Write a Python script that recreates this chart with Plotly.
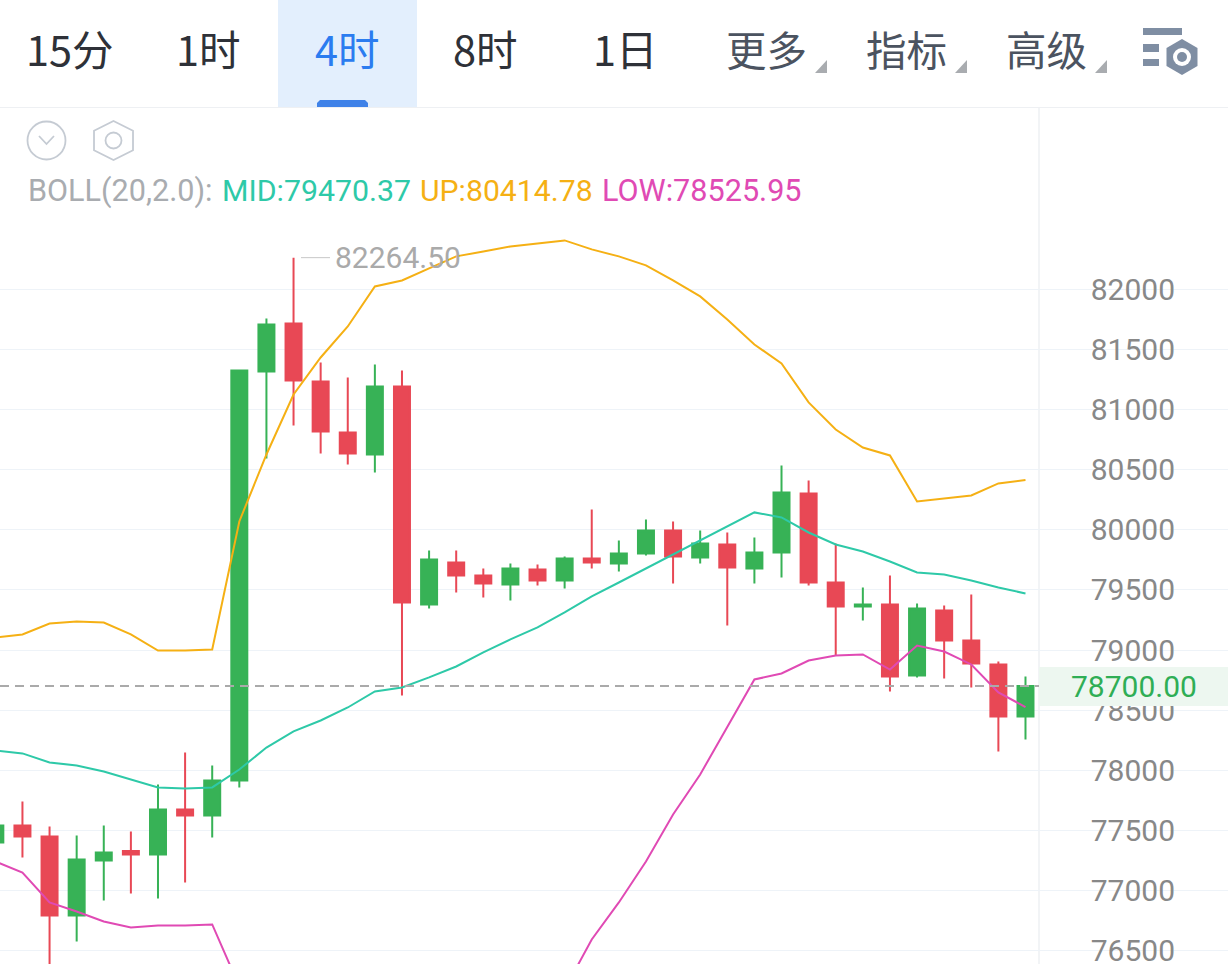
import math
import plotly.graph_objects as go

W, H = 1228, 964

candle_index = list(range(39))
open_ = [77399,77540,77449,76792,77249,77328,77299,77674,77624,77915,81318,81717,81235,80810,80627,81193,79379,79729,79620,79546,79670,79579,79762,79720,79804,79995,79770,79878,79679,79812,80303,79562,79363,79379,78788,79329,79080,78880,78447]
high = [77600,77740,77532,77457,77540,77491,77882,78148,78040,81334,81759,82264.5,81393,81268,81376,81326,79828,79828,79679,79720,79712,79779,80170,79912,80086,80070,79995,79978,79937,80536,80411,79887,79521,79620,79388,79371,79462,78905,78780]
low = [77340,77274,76301,76575,76916,76975,76933,77066,77441,77857,80594,80868,80636,80544,80477,78622,79346,79479,79437,79412,79537,79512,79679,79654,79787,79554,79720,79204,79554,79604,79537,78955,79246,78655,78772,78764,78689,78156,78256]
close = [77540,77449,76792,77258,77316,77299,77674,77624,77915,81326,81709,81243,80819,80636,81193,79396,79754,79620,79554,79679,79579,79762,79729,79804,79995,79779,79887,79687,79812,80311,79562,79363,79379,78780,79346,79080,78888,78447,78700]

boll_mid = [78164,78140,78065,78040,77990,77923,77857,77848,77857,78006,78189,78323,78414,78522,78655,78689,78772,78863,78980,79088,79188,79313,79446,79562,79679,79795,79912,80028,80145,80103,79978,79878,79820,79737,79645,79629,79579,79521,79470.37]
boll_up = [79105,79130,79221,79238,79229,79130,78996,78996,79005,80070,80627,81126,81434,81692,82025,82075,82175,82275,82316,82358,82383,82408,82333,82275,82200,82075,81942,81750,81542,81384,81060,80835,80685,80619,80236,80261,80286,80386,80414.78]
boll_low = [77241,77149,76900,76825,76742,76692,76708,76708,76717,76201,75800,75500,75350,75400,75150,75050,75150,75300,75450,75600,75900,76176,76592,76900,77241,77632,77965,78364,78755,78805,78913,78955,78963,78838,79038,78988,78880,78647,78525.95]

y_ticks = [76500,77000,77500,78000,78500,79000,79500,80000,80500,81000,81500,82000]
last_price = 78700.00
peak_price = 82264.50
peak_index = 11

tabs = ["15分","1时","4时","8时","1日"]
tab_centers = [70,208,347,485,625]
menus = ["更多","指标","高级"]
menu_centers = [766,906,1046]

GREEN, RED = "#37B256", "#E84855"
TEAL, ORANGE, MAGENTA = "#2EC9A8", "#F5B014", "#E04AB4"
GRID, EDGE = "#EEF3F8", "#EEF0F3"
ICON = "#C5CBD3"
SLATE = "#7F8EA3"
SANS = "Roboto"
CJK = "Noto Sans CJK SC"

def px(x): return x / W
def py(y): return 1 - y / H

def rect(x0, y0, x1, y1, color, layer="above"):
    return dict(type="rect", xref="paper", yref="paper", x0=px(x0), x1=px(x1), y0=py(y1), y1=py(y0),
                fillcolor=color, line_width=0, layer=layer)

def circle(cx, cy, r, fill=None, line=None, lw=1.8):
    return dict(type="circle", xref="paper", yref="paper", x0=px(cx-r), x1=px(cx+r), y0=py(cy+r), y1=py(cy-r),
                fillcolor=fill or "rgba(0,0,0,0)", line=dict(color=line or "rgba(0,0,0,0)", width=lw if line else 0), layer="above")

def poly(points, fill=None, line=None, lw=1.8, closed=True):
    d = "M" + " L".join(f"{px(a):.5f},{py(b):.5f}" for a, b in points) + (" Z" if closed else "")
    return dict(type="path", xref="paper", yref="paper", path=d,
                fillcolor=fill or "rgba(0,0,0,0)", line=dict(color=line or "rgba(0,0,0,0)", width=lw if line else 0), layer="above")

def hexagon(cx, cy, r, rx=None):
    rx = rx or r
    return [(cx, cy-r), (cx+rx, cy-r/2), (cx+rx, cy+r/2), (cx, cy+r), (cx-rx, cy+r/2), (cx-rx, cy-r/2)]

def label(x, y, text, size, color, anchor="center", family=SANS):
    return dict(xref="paper", yref="paper", x=px(x), y=py(y), text=text, showarrow=False, xanchor=anchor, yanchor="middle",
                font=dict(family=family, size=size, color=color), borderpad=0, borderwidth=0)

fig = go.Figure()
fig.add_trace(go.Candlestick(
    x=candle_index, open=open_, high=high, low=low, close=close,
    increasing=dict(line=dict(color=GREEN, width=2), fillcolor=GREEN),
    decreasing=dict(line=dict(color=RED, width=2), fillcolor=RED),
    whiskerwidth=0, showlegend=False, hoverinfo="skip"))
for series, color in ((boll_mid, TEAL), (boll_up, ORANGE), (boll_low, MAGENTA)):
    fig.add_trace(go.Scatter(x=candle_index, y=series, mode="lines", line=dict(color=color, width=2),
                             showlegend=False, hoverinfo="skip"))

shapes = [
    rect(1052, 108, 1185, H, "#FFFFFF", layer="between"),
    dict(type="line", xref="paper", yref="paper", x0=px(1039), x1=px(1039), y0=py(108), y1=0,
         line=dict(color=EDGE, width=1.5), layer="between"),
    dict(type="line", xref="paper", yref="y", x0=0, x1=px(1039), y0=last_price, y1=last_price,
         line=dict(color="#AAAAAA", width=2, dash="9px,6px"), layer="above"),
    rect(1039, 667, W, 706, "#EDF7F0"),
    rect(0, 0, W, 107, "#FFFFFF"),
    dict(type="line", xref="paper", yref="paper", x0=0, x1=1, y0=py(107.5), y1=py(107.5),
         line=dict(color=EDGE, width=1), layer="above"),
    rect(278, 0, 417, 107, "#E3EFFD"),
    poly([(317,107),(317,103),(320,100),(365,100),(368,103),(368,107)], fill="#3F82E8"),
    circle(46.5, 140.5, 19, line=ICON),
    poly([(39,136),(46.5,144),(54,136)], line=ICON, closed=False),
    poly(hexagon(113.5, 140.5, 19.5), line=ICON),
    circle(113.5, 140.5, 8, line=ICON),
    dict(type="line", xref="paper", yref="y", x0=px(301), x1=px(330), y0=peak_price, y1=peak_price,
         line=dict(color="#C8C8C8", width=1), layer="above"),
    rect(1143, 28, 1182, 35, SLATE),
    rect(1143, 44, 1159, 52, SLATE),
    rect(1143, 59, 1159, 66, SLATE),
    poly(hexagon(1182, 57, 18, 15.5), fill=SLATE),
    circle(1182, 57, 9, fill="#FFFFFF"),
    circle(1182, 57, 5, fill=SLATE),
]
for cx in menu_centers:
    tip = cx + 60
    shapes.append(poly([(tip-11,73),(tip+1,73),(tip+1,60)], fill="#A9ACB0"))

annotations = []
for name, cx in zip(tabs, tab_centers):
    annotations.append(label(cx, 48, name, 41.5, "#2B7CF0" if name == "4时" else "#2E3138", family=CJK))
for name, cx in zip(menus, menu_centers):
    annotations.append(label(cx, 48, name, 40.5, "#4B5360", family=CJK))
annotations += [
    label(28, 191, "BOLL(20,2.0):", 30.6, "#A9ACB0", "left"),
    label(222, 191, f"MID:{boll_mid[-1]:.2f}", 30.3, TEAL, "left"),
    label(420, 191, f"UP:{boll_up[-1]:.2f}", 30.2, ORANGE, "left"),
    label(602, 191, f"LOW:{boll_low[-1]:.2f}", 30.6, MAGENTA, "left"),
    label(1133.5, 686, f"{last_price:.2f}", 30, "#2FAE55"),
    dict(xref="x", yref="y", x=peak_index, y=peak_price, text=f"{peak_price:.2f}", showarrow=False, xanchor="left",
         yanchor="middle", xshift=39, font=dict(family=SANS, size=30, color="#AAAAAA")),
]

fig.update_layout(
    width=W, height=H, margin=dict(l=0, r=0, t=0, b=0), autosize=False,
    paper_bgcolor="#FFFFFF", plot_bgcolor="#FFFFFF", showlegend=False, hovermode=False,
    shapes=shapes, annotations=annotations, boxgap=0.41, boxgroupgap=0,
    xaxis=dict(range=[0.172, 45.47], domain=[0, 1], visible=False, rangeslider=dict(visible=False), fixedrange=True),
    yaxis=dict(range=[76388, 84408], domain=[0, 1], anchor="free", position=1175/1228, side="left",
               tickmode="array", tickvals=y_ticks, ticktext=[str(v) for v in y_ticks],
               tickfont=dict(family=SANS, size=30, color="#888888"), ticks="", showline=False, zeroline=False,
               ticklabeloverflow="allow",
               showgrid=True, gridcolor=GRID, gridwidth=1, automargin=False, fixedrange=True),
)
fig.write_html("out.html", config=dict(displayModeBar=False, staticPlot=True),
               post_script="document.body.style.margin='0';document.body.style.overflow='hidden';")
